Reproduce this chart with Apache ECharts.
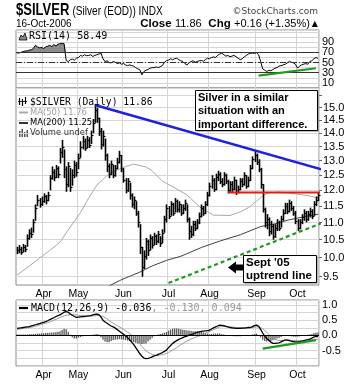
<!DOCTYPE html>
<html><head><meta charset="utf-8">
<script src="https://cdn.jsdelivr.net/npm/echarts@6/dist/echarts.min.js"></script>
<style>html,body{margin:0;padding:0;background:#fff}#c{width:360px;height:384px}</style>
</head><body><div id="c"></div>
<script>
// ---------- categories (trading days) ----------
const holidays = ['2006-04-14','2006-04-17','2006-04-18','2006-05-29','2006-07-04','2006-09-04'];
const categories = (function(){
  const out = [];
  let t = Date.UTC(2006,2,15); const end = Date.UTC(2006,9,16);
  while (t <= end) {
    const d = new Date(t); const wd = d.getUTCDay();
    const s = d.toISOString().slice(0,10);
    if (wd !== 0 && wd !== 6 && holidays.indexOf(s) < 0) out.push(s);
    t += 86400000;
  }
  return out;
})();
const monthNames = ['Jan','Feb','Mar','Apr','May','Jun','Jul','Aug','Sep','Oct','Nov','Dec'];

// ---------- price (daily HLC) ----------
const close = [
10.20,10.25,10.15,10.30,10.25,10.55,10.70,10.65,11.00,11.45,
11.70,11.55,11.65,11.80,11.70,11.85,12.40,12.60,12.45,12.75,
12.55,13.30,13.50,12.70,12.20,12.80,12.10,12.50,12.85,12.60,
13.10,13.50,13.70,13.45,13.75,13.55,13.95,14.40,14.90,14.60,
14.10,13.60,13.90,13.20,12.80,12.55,12.90,12.50,12.75,12.95,
13.20,12.70,12.35,12.00,12.30,11.85,11.55,11.70,11.30,11.00,
10.30,9.75,10.05,10.45,10.20,10.55,10.35,10.60,10.45,10.65,
10.40,10.70,11.10,11.45,11.20,11.55,11.30,11.65,11.40,11.55,
11.30,11.45,11.60,11.10,10.75,10.65,10.95,10.85,11.00,11.20,
11.45,11.30,11.55,11.85,12.15,12.35,12.05,12.45,12.55,12.30,
12.20,12.50,12.30,12.00,12.20,12.05,12.35,11.95,12.05,12.30,
12.20,12.50,12.15,12.35,12.75,13.05,13.20,12.95,12.70,12.20,
11.40,11.00,11.10,10.75,10.90,10.60,10.85,11.00,10.85,11.10,
11.30,11.50,11.35,11.60,11.45,11.30,11.05,10.85,11.00,11.15,
11.30,11.10,11.25,11.35,11.20,11.55,11.70,11.86];
const high = [
10.30,10.35,10.30,10.38,10.35,10.65,10.80,10.85,11.10,11.55,
11.85,11.75,11.80,11.90,11.85,11.95,12.50,12.80,12.70,12.85,
12.80,13.45,13.75,13.40,12.80,12.95,12.75,12.70,13.00,12.95,
13.25,13.70,13.90,13.80,13.90,13.85,14.10,14.55,15.15,15.00,
14.60,14.20,14.10,13.80,13.25,12.90,13.00,12.85,12.85,13.10,
13.35,13.20,12.75,12.40,12.40,12.25,11.90,11.80,11.65,11.35,
10.95,10.30,10.20,10.55,10.50,10.65,10.60,10.70,10.65,10.75,
10.60,10.80,11.20,11.55,11.50,11.65,11.60,11.75,11.70,11.65,
11.55,11.55,11.70,11.55,11.15,10.90,11.05,11.05,11.10,11.30,
11.55,11.50,11.65,11.95,12.25,12.50,12.40,12.55,12.65,12.60,
12.40,12.60,12.55,12.35,12.30,12.30,12.45,12.35,12.15,12.40,
12.40,12.60,12.50,12.45,12.85,13.15,13.35,13.25,13.05,12.75,
12.20,11.45,11.25,11.15,11.05,10.95,10.95,11.10,11.05,11.20,
11.40,11.60,11.60,11.70,11.65,11.50,11.35,11.10,11.10,11.25,
11.40,11.35,11.35,11.45,11.40,11.65,11.80,11.95];
const low = [
10.10,10.12,10.08,10.15,10.15,10.30,10.50,10.55,10.70,11.05,
11.50,11.45,11.50,11.60,11.55,11.65,12.00,12.35,12.30,12.40,
12.40,12.90,13.10,12.40,11.95,12.10,11.95,12.15,12.40,12.45,
12.70,13.10,13.40,13.35,13.45,13.45,13.60,14.00,14.40,14.40,
13.90,13.40,13.50,13.00,12.60,12.40,12.50,12.40,12.45,12.70,
12.90,12.60,12.25,11.90,11.95,11.70,11.45,11.40,11.20,10.85,
10.10,9.50,9.70,9.95,10.05,10.20,10.25,10.35,10.35,10.40,
10.30,10.40,10.70,11.00,11.10,11.20,11.20,11.30,11.30,11.30,
11.20,11.25,11.35,11.00,10.50,10.55,10.60,10.75,10.80,10.95,
11.15,11.20,11.25,11.50,11.80,12.05,11.95,12.00,12.30,12.20,
12.10,12.15,12.20,11.90,11.95,11.95,12.00,11.85,11.90,12.00,
12.10,12.15,12.05,12.10,12.30,12.70,12.95,12.85,12.60,12.05,
11.30,10.85,10.80,10.60,10.65,10.50,10.55,10.75,10.75,10.85,
11.05,11.25,11.25,11.30,11.35,11.20,10.95,10.75,10.80,10.95,
11.05,11.00,11.05,11.15,11.10,11.20,11.50,11.65];

// moving averages (read at sample days)
const ma50Day = [0,6,11,16,21,25,31,35,39,45,52,57,63,66,71,76,83,90,96,104,109,113,117,120,123,128,133,139,144,147];
const ma50    = [9.54,9.78,9.99,10.2,10.43,10.78,11.3,11.75,12.17,12.55,12.77,12.88,12.78,12.65,12.3,12.12,11.85,11.43,11.22,11.21,11.32,11.45,11.65,11.82,11.92,11.94,11.91,11.86,11.8,11.76];
const ma200Day = [44,50,60,66,73,80,83,90,99,109,119,126,133,140,147];
const ma200    = [9.24,9.40,9.62,9.78,9.93,10.04,10.11,10.28,10.46,10.64,10.88,10.96,11.08,11.17,11.25];

// trend lines (day index, price)
const blueDays = [38,155], blueValues = [15.11,12.57];
const redDays = [103,148], redValues = [11.93,11.93];
const greenDays = [74,150], greenValues = [9.34,11.01];

// ---------- RSI(14) ----------
const rsi = [
68.6,69,70.2,71.5,72.8,72.8,74.6,75,77.7,84,
80.8,79,79.5,77.7,80.8,82,84,81.4,85.3,82.7,
86,87,87.7,87,54,52,55.6,56.8,54.7,58.6,
60,64,62.6,65.4,63.5,64,65.4,62,64,65.4,
66.7,68.6,57.5,52,53.5,50,49.4,52,50.6,48,
49.4,46.7,48,45.4,44,45.4,44,43,40,37.6,
35.6,26,32.5,35,36.3,39,40,40,41.5,40,
42,44,50.6,53.5,54.7,57.5,55.6,57.5,58.6,55.6,
53.5,52,48,45.4,49.4,52,53.5,50.6,52,53.5,
54,52.6,55.6,58.6,57.5,60,61,60,64,66.7,
68.6,65.4,62.6,64,61.4,62.6,64,61.4,58.6,55.6,
57.5,61.4,64,66.7,68,68.6,68,69.3,65.4,52,
37.6,35,32.5,34.5,34,36.3,39,40,43,44,
45.4,46.7,49.4,52,50.6,49.4,46.7,39,43,45.4,
46.7,48,46.7,52,53.5,57.5,60,58.49];
const rsiGreenDays = [118,146], rsiGreenValues = [24.5,38.8];

// ---------- MACD(12,26,9) ----------
const macd = [
0.23,0.24,0.25,0.26,0.27,0.28,0.29,0.31,
0.33,0.35,0.37,0.39,0.41,0.43,0.45,
0.48,0.52,0.55,0.58,0.62,0.65,0.67,
0.72,0.76,0.78,0.76,
0.70,0.66,0.62,0.59,
0.60,0.61,0.62,0.62,0.63,
0.64,0.65,0.67,0.69,0.70,0.68,
0.60,0.50,0.44,0.40,0.35,0.31,0.28,
0.24,0.19,0.14,0.09,0.04,-0.01,-0.07,
-0.14,-0.22,-0.30,-0.40,-0.50,-0.60,-0.68,-0.74,-0.76,
-0.75,-0.73,-0.70,-0.67,-0.65,
-0.62,-0.59,-0.56,-0.52,-0.48,
-0.40,-0.33,-0.26,-0.21,-0.17,-0.13,-0.10,
-0.07,-0.04,-0.02,0.01,0.03,0.05,0.08,0.10,0.12,
0.13,0.14,0.15,0.16,0.17,0.21,0.25,0.28,0.31,0.34,
0.33,0.32,0.30,0.28,0.26,0.25,0.24,0.23,0.23,0.23,
0.24,0.24,0.25,0.26,0.26,0.29,0.32,0.34,
0.30,0.20,0.08,-0.02,-0.10,-0.16,-0.22,-0.26,
-0.26,-0.25,-0.24,-0.21,-0.18,-0.15,
-0.15,-0.17,-0.19,-0.20,-0.21,-0.21,
-0.20,-0.19,-0.17,-0.15,-0.14,-0.12,-0.09,-0.05,-0.04,-0.036];
const signal = [
0.20,0.21,0.22,0.23,0.24,0.25,0.26,0.27,
0.28,0.30,0.32,0.34,0.36,0.38,0.40,
0.42,0.44,0.47,0.50,0.53,0.56,0.59,
0.61,0.64,0.66,0.67,
0.68,0.68,0.68,0.67,
0.66,0.65,0.64,0.63,0.63,
0.63,0.63,0.64,0.64,0.65,0.65,
0.64,0.62,0.58,0.54,0.49,0.44,0.40,
0.36,0.32,0.28,0.24,0.20,0.15,0.11,
0.06,0.01,-0.05,-0.12,-0.20,-0.28,-0.36,-0.44,-0.50,
-0.55,-0.59,-0.62,-0.64,-0.65,
-0.65,-0.64,-0.63,-0.61,-0.59,
-0.56,-0.52,-0.48,-0.44,-0.40,-0.35,-0.30,
-0.26,-0.22,-0.18,-0.15,-0.12,-0.09,-0.06,-0.04,-0.02,
0.01,0.04,0.07,0.10,0.13,0.16,0.19,0.22,0.25,0.28,
0.29,0.29,0.29,0.28,0.28,0.27,0.27,0.26,0.26,0.26,
0.25,0.25,0.25,0.25,0.25,0.26,0.27,0.28,
0.28,0.26,0.22,0.16,0.10,0.03,-0.04,-0.10,
-0.13,-0.15,-0.16,-0.16,-0.16,-0.15,
-0.15,-0.15,-0.16,-0.16,-0.17,-0.17,
-0.17,-0.17,-0.17,-0.16,-0.16,-0.15,-0.14,-0.13,-0.13,-0.13];
const hist = [
0.03,0.03,0.03,0.03,0.03,0.03,0.04,0.04,
0.05,0.05,0.06,0.06,0.07,0.07,0.08,
0.08,0.09,0.10,0.10,0.11,0.12,0.14,
0.18,0.22,0.20,0.12,
0.02,-0.06,-0.10,-0.10,
-0.07,-0.05,-0.03,-0.02,-0.01,
0.00,0.01,0.02,0.04,0.05,0.03,
-0.06,-0.14,-0.20,-0.22,-0.22,-0.18,-0.15,
-0.14,-0.13,-0.12,-0.13,-0.14,-0.15,-0.17,
-0.18,-0.20,-0.22,-0.24,-0.26,-0.28,-0.28,-0.27,-0.26,
-0.20,-0.14,-0.08,-0.03,0.00,
0.03,0.05,0.07,0.09,0.11,
0.16,0.19,0.22,0.23,0.23,0.22,0.20,
0.19,0.18,0.16,0.16,0.15,0.14,0.14,0.14,0.14,
0.12,0.10,0.08,0.06,0.04,0.05,0.06,0.06,0.06,0.06,
0.04,0.03,0.01,0.00,-0.02,-0.02,-0.03,-0.03,-0.03,-0.03,
-0.01,-0.01,0.00,0.01,0.01,0.03,0.05,0.06,
0.02,-0.06,-0.14,-0.18,-0.20,-0.19,-0.18,-0.16,
-0.13,-0.10,-0.08,-0.05,-0.02,0.00,
0.00,-0.02,-0.03,-0.04,-0.04,-0.04,
-0.03,-0.02,0.00,0.01,0.02,0.03,0.05,0.08,0.09,0.094];
const macdGreenDays = [120,146], macdGreenValues = [-0.43,-0.155];

// ---------- axis ticks ----------
const priceTicks  = [9.5,10,10.5,11,11.5,12,12.5,13,13.5,14,14.5,15,15.5];
const priceLabels = [9.5,10,10.5,11,11.5,12,12.5,13,13.5,14,14.5,15];
const priceMin = 9.29, priceMax = 15.82;
const rsiLabels = [10,30,50,70,90];
const macdLabels = [-0.5,0,0.5,1];

// ---------- build ----------
const L = Math.log;
const isMonthStart = i => i > 0 && categories[i].slice(5,7) !== categories[i-1].slice(5,7);
const monthLabel = v => monthNames[parseInt(v.slice(5,7),10)-1];
const GRID_LINE = '#d6d6d6';
const pairs = (days, vals, f) => days.map((d,k) => [d, f ? f(vals[k]) : vals[k]]);

function xAxisFor(gi, showLabels) {
  return {
    type:'category', gridIndex: gi, data: categories, boundaryGap: true,
    axisLine:{show:false}, axisTick:{show:false},
    axisLabel:{show: showLabels, interval: (idx) => isMonthStart(idx), formatter: monthLabel,
      fontFamily:'"Liberation Sans", Arial, sans-serif', fontSize: 10.5, color:'#000', margin: 4},
    splitLine:{show:true, interval:(idx) => isMonthStart(idx), lineStyle:{color:GRID_LINE, width:1}}
  };
}
const labelFont = {fontFamily:'"Liberation Sans", Arial, sans-serif', fontSize: 11, color:'#000'};

const option = {
  animation: false,
  backgroundColor: '#fff',
  grid: [
    {left:16, top:30, width:303, height:58, show:true, borderColor:'#8a8a8a', borderWidth:1},
    {left:16, top:88, width:303, height:197, show:true, borderColor:'#8a8a8a', borderWidth:1},
    {left:16, top:300, width:303, height:66, show:true, borderColor:'#8a8a8a', borderWidth:1}
  ],
  xAxis: [ xAxisFor(0,false), xAxisFor(1,true), xAxisFor(2,true) ],
  yAxis: [
    { type:'value', gridIndex:0, position:'right', min:0, max:114, interval:10,
      axisLine:{show:false}, axisTick:{show:false},
      axisLabel: Object.assign({margin:3, formatter: v => rsiLabels.indexOf(v) >= 0 ? String(v) : ''}, labelFont),
      splitLine:{lineStyle:{color:GRID_LINE}} },
    { type:'value', gridIndex:1, position:'right', min:L(priceMin), max:L(priceMax),
      axisLine:{show:false},
      axisTick:{show:true, length:3, lineStyle:{color:'#666'}, customValues: priceTicks.map(L)},
      axisLabel: Object.assign({margin:4, customValues: priceLabels.map(L), formatter: v => Math.exp(v).toFixed(1)}, labelFont),
      splitLine:{show:true, lineStyle:{color:GRID_LINE}} },
    { type:'value', gridIndex:2, position:'right', min:-1, max:1.16, interval:0.25,
      axisLine:{show:false}, axisTick:{show:false},
      axisLabel: Object.assign({margin:3, formatter: v => macdLabels.some(m => Math.abs(m - v) < 1e-9) ? v.toFixed(1) : ''}, labelFont),
      splitLine:{lineStyle:{color:GRID_LINE}} }
  ],
  series: [
    // RSI overbought fill (stacked above the 70 level)
    { type:'line', xAxisIndex:0, yAxisIndex:0, stack:'rsiFill', data: rsi.map(() => 70),
      symbol:'none', lineStyle:{opacity:0}, silent:true, z:1 },
    { type:'line', xAxisIndex:0, yAxisIndex:0, stack:'rsiFill', data: rsi.map(v => Math.max(v - 70, 0)),
      symbol:'none', lineStyle:{opacity:0}, areaStyle:{color:'#8c8c8c', opacity:1}, silent:true, z:1 },
    { type:'line', xAxisIndex:0, yAxisIndex:0, data: rsi, symbol:'none',
      lineStyle:{color:'#000', width:1}, z:3,
      markLine:{ silent:true, symbol:'none', label:{show:false},
        data:[ {yAxis:70, lineStyle:{color:'#333', width:1, type:'solid'}},
               {yAxis:30, lineStyle:{color:'#333', width:1, type:'solid'}},
               {yAxis:50, lineStyle:{color:'#333', width:1, type:[6,2,1,2]}} ] } },
    { type:'line', xAxisIndex:0, yAxisIndex:0, data: pairs(rsiGreenDays, rsiGreenValues), symbol:'none',
      lineStyle:{color:'#1f9a1f', width:2.2}, z:5, clip:false },

    // price bars
    { type:'custom', xAxisIndex:1, yAxisIndex:1,
      data: close.map((c,i) => [i, L(c), L(high[i]), L(low[i])]),
      encode:{x:0, y:[1,2,3]}, z:3,
      renderItem: function(params, api) {
        const hi = api.coord([api.value(0), api.value(2)]);
        const lo = api.coord([api.value(0), api.value(3)]);
        const cl = api.coord([api.value(0), api.value(1)]);
        const x = Math.round(hi[0]) + 0.5;
        const cy = Math.round(cl[1]) + 0.5;
        return { type:'group', children:[
          { type:'line', shape:{x1:x, y1:hi[1], x2:x, y2:lo[1]}, style:{stroke:'#000', lineWidth:1.6} },
          { type:'line', shape:{x1:x, y1:cy, x2:x+2, y2:cy}, style:{stroke:'#000', lineWidth:1.2} }
        ]};
      } },
    { type:'line', xAxisIndex:1, yAxisIndex:1, data: pairs(ma50Day, ma50, L), symbol:'none',
      lineStyle:{color:'#a8a8a8', width:1}, z:2 },
    { type:'line', xAxisIndex:1, yAxisIndex:1, data: pairs(ma200Day, ma200, L), symbol:'none',
      lineStyle:{color:'#404040', width:1}, z:2 },
    { type:'line', xAxisIndex:1, yAxisIndex:1, data: pairs(blueDays, blueValues, L), symbol:'none',
      lineStyle:{color:'#1e1ee6', width:2.4}, z:6, clip:false },
    { type:'line', xAxisIndex:1, yAxisIndex:1, data: pairs(redDays, redValues, L), symbol:'none',
      lineStyle:{color:'#f01414', width:2}, z:6, clip:false },
    { type:'line', xAxisIndex:1, yAxisIndex:1, data: pairs(greenDays, greenValues, L), symbol:'none',
      lineStyle:{color:'#1f9a1f', width:2.2, type:[4,3]}, z:6, clip:false },

    // MACD
    { type:'bar', xAxisIndex:2, yAxisIndex:2, data: hist, barWidth:1.3,
      itemStyle:{color:'#555'}, z:2,
      markLine:{ silent:true, symbol:'none', label:{show:false},
        data:[{yAxis:0, lineStyle:{color:'#000', width:1, type:'solid'}}] } },
    { type:'line', xAxisIndex:2, yAxisIndex:2, data: signal, symbol:'none',
      lineStyle:{color:'#999', width:1}, z:3 },
    { type:'line', xAxisIndex:2, yAxisIndex:2, data: macd, symbol:'none',
      lineStyle:{color:'#000', width:1.3}, z:4 },
    { type:'line', xAxisIndex:2, yAxisIndex:2, data: pairs(macdGreenDays, macdGreenValues), symbol:'none',
      lineStyle:{color:'#1f9a1f', width:2.2}, z:5, clip:false }
  ],
  graphic: [
    // header
    { type:'text', x:16, y:10.5, scaleX:0.79, z:50, style:{ text:'$SILVER', fill:'#000',
        font:'bold 16.5px "Liberation Sans", Arial, sans-serif', verticalAlign:'middle' } },
    { type:'text', x:72.5, y:11.5, scaleX:0.84, z:50, style:{ text:'(Silver (EOD)) INDX', fill:'#000',
        font:'12px "Liberation Sans", Arial, sans-serif', verticalAlign:'middle' } },
    { type:'text', x:318, y:12, z:50, style:{ text:'\u00a9StockCharts.com', fill:'#444',
        font:'9px "DejaVu Sans", sans-serif', align:'right', verticalAlign:'middle' } },
    { type:'text', x:16, y:24, z:50, style:{ text:'16-Oct-2006', fill:'#000',
        font:'10px "Liberation Sans", Arial, sans-serif', verticalAlign:'middle' } },
    { type:'text', x:318, y:24, z:50, style:{
        text:'{b|Close} {n|11.86}  {b|Chg} {n|+0.16 (+1.35%)}{t|\u25b2}', align:'right', verticalAlign:'middle',
        rich:{ b:{font:'bold 11.5px "Liberation Sans", Arial, sans-serif', fill:'#000'},
               n:{font:'11px "Liberation Sans", Arial, sans-serif', fill:'#000'},
               t:{font:'8px "DejaVu Sans", sans-serif', fill:'#000', padding:[0,0,0,2]} } } },

    // RSI legend
    { type:'polygon', z:50, shape:{points:[[19,40],[21,35],[23,37],[25,33],[27,40]]},
      style:{fill:'#888', stroke:'#000', lineWidth:0.8} },
    { type:'text', x:29, y:36.5, z:50, style:{ text:'RSI(14) 58.49', fill:'#000',
        font:'10px "DejaVu Sans Mono", monospace', verticalAlign:'middle' } },

    // price legend
    { type:'group', z:50, children:[
      { type:'line', shape:{x1:19.5,y1:98,x2:19.5,y2:105}, style:{stroke:'#000', lineWidth:1.2} },
      { type:'line', shape:{x1:22.5,y1:99,x2:22.5,y2:106}, style:{stroke:'#000', lineWidth:1.2} },
      { type:'line', shape:{x1:25.5,y1:97,x2:25.5,y2:104}, style:{stroke:'#000', lineWidth:1.2} },
      { type:'line', shape:{x1:18,y1:101.5,x2:27,y2:101.5}, style:{stroke:'#000', lineWidth:0.8} }
    ]},
    { type:'text', x:30, y:102, z:50, style:{ text:'$SILVER (Daily) 11.86', fill:'#000',
        font:'9.7px "DejaVu Sans Mono", monospace', verticalAlign:'middle' } },
    { type:'line', z:50, shape:{x1:19,y1:112.5,x2:28,y2:112.5}, style:{stroke:'#a8a8a8', lineWidth:2} },
    { type:'text', x:30, y:112.5, z:50, style:{ text:'MA(50) 11.76', fill:'#a0a0a0',
        font:'8.4px "DejaVu Sans", sans-serif', verticalAlign:'middle' } },
    { type:'line', z:50, shape:{x1:19,y1:123,x2:28,y2:123}, style:{stroke:'#333', lineWidth:2} },
    { type:'text', x:30, y:123, z:50, style:{ text:'MA(200) 11.25', fill:'#000',
        font:'8.4px "DejaVu Sans", sans-serif', verticalAlign:'middle' } },
    { type:'group', z:50, children:[
      { type:'rect', shape:{x:19,y:131,width:1.5,height:6}, style:{fill:'#555'} },
      { type:'rect', shape:{x:21.5,y:129,width:1.5,height:8}, style:{fill:'#555'} },
      { type:'rect', shape:{x:24,y:132,width:1.5,height:5}, style:{fill:'#555'} },
      { type:'rect', shape:{x:26.5,y:130,width:1.5,height:7}, style:{fill:'#555'} }
    ]},
    { type:'text', x:30, y:133, z:50, style:{ text:'Volume undef', fill:'#333',
        font:'8.4px "DejaVu Sans", sans-serif', verticalAlign:'middle' } },

    // MACD legend
    { type:'line', z:50, shape:{x1:19,y1:308,x2:28,y2:308}, style:{stroke:'#000', lineWidth:2.2} },
    { type:'text', x:31, y:308, z:50, style:{
        text:'{k|MACD(12,26,9) -0.036}{g|, -0.130, 0.094}', verticalAlign:'middle',
        rich:{ k:{font:'10px "DejaVu Sans Mono", monospace', fill:'#000'},
               g:{font:'10px "DejaVu Sans Mono", monospace', fill:'#999'} } } },

    // annotation box 1
    { type:'rect', z:60, shape:{x:196.5,y:91.5,width:122,height:40}, style:{fill:'#777'} },
    { type:'rect', z:61, shape:{x:195.5,y:90.5,width:122,height:40}, style:{fill:'#fff', stroke:'#000', lineWidth:1} },
    { type:'text', x:198, y:97.5, z:62, style:{ text:'Silver in a similar', fill:'#000',
        font:'bold 11px "Liberation Sans", Arial, sans-serif', verticalAlign:'middle' } },
    { type:'text', x:198, y:111, z:62, style:{ text:'situation with an', fill:'#000',
        font:'bold 11px "Liberation Sans", Arial, sans-serif', verticalAlign:'middle' } },
    { type:'text', x:198, y:124.5, z:62, style:{ text:'important difference.', fill:'#000',
        font:'bold 11px "Liberation Sans", Arial, sans-serif', verticalAlign:'middle' } },

    // annotation box 2 + arrow
    { type:'rect', z:60, shape:{x:244.5,y:256.5,width:73,height:27}, style:{fill:'#777'} },
    { type:'rect', z:61, shape:{x:243.5,y:255.5,width:73,height:27}, style:{fill:'#fff', stroke:'#000', lineWidth:1} },
    { type:'text', x:246, y:262.5, z:62, style:{ text:"Sept '05", fill:'#000',
        font:'bold 11.5px "Liberation Sans", Arial, sans-serif', verticalAlign:'middle' } },
    { type:'text', x:246, y:276, z:62, style:{ text:'uptrend line', fill:'#000',
        font:'bold 11.5px "Liberation Sans", Arial, sans-serif', verticalAlign:'middle' } },
    { type:'polygon', z:62, shape:{points:[[228,267.5],[236,261.5],[236,264.5],[243,264.5],[243,270.5],[236,270.5],[236,273.5]]},
      style:{fill:'#000'} }
  ]
};

const chart = echarts.init(document.getElementById('c'), null, {renderer:'canvas', width:360, height:384});
chart.setOption(option);
</script>
</body></html>
